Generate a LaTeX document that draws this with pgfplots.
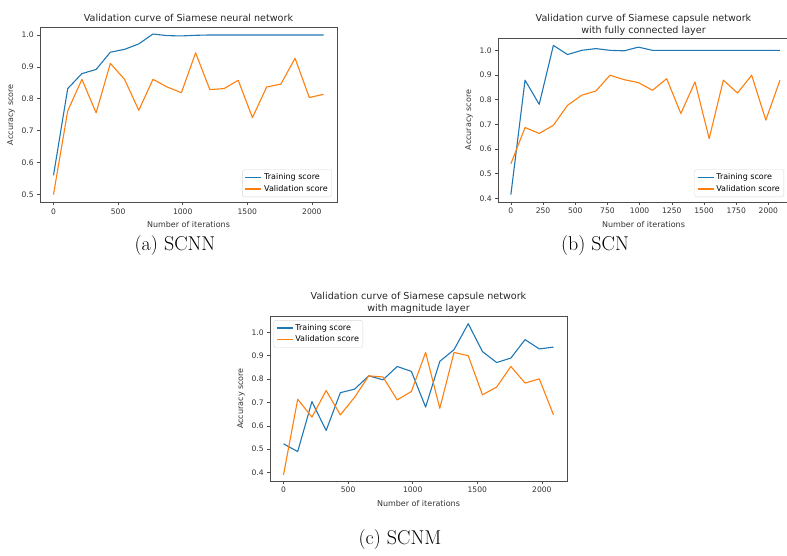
\documentclass[border=0pt]{standalone}
\usepackage{fontspec}
\setsansfont{DejaVu Sans}
\usepackage{pgfplots}
\usepackage{pgfplotstable}
\pgfplotsset{compat=1.18}
\definecolor{mplblue}{HTML}{1F77B4}
\definecolor{mplorange}{HTML}{FF7F0E}
\pgfplotsset{
 mpl/.style={
  scale only axis,
  axis line style={black!70, line width=0.6pt},
  tick align=outside, tick pos=left,
  major tick length=2.8pt,
  every tick/.style={black!70, line width=0.6pt},
  tick label style={font=\sffamily\fontsize{7.6}{9}\selectfont, text=black!80},
  label style={font=\sffamily\fontsize{8}{9.5}\selectfont, text=black!80},
  title style={font=\sffamily\fontsize{9.6}{12}\selectfont, align=center, text=black!85, inner sep=1pt},
  /pgf/number format/assume math mode=true,
  /pgf/number format/1000 sep={},
  y tick label style={/pgf/number format/.cd, fixed, fixed zerofill, precision=1},
  legend style={font=\sffamily\fontsize{8}{9.5}\selectfont, draw=black!15, rounded corners=1.5pt, fill=white, inner sep=2pt},
  legend cell align=left,
  legend image code/.code={\draw[##1, line width=1.6pt] (0pt,0pt) -- (16pt,0pt);},
  ylabel={Accuracy score}, xlabel={Number of iterations},
  every axis plot/.append style={line width=1.1pt, line join=round},
 }
}
\pgfplotstableread{
x train val
0    0.560 0.500
110  0.832 0.762
220  0.879 0.861
330  0.892 0.756
440  0.946 0.911
550  0.955 0.861
660  0.972 0.764
770  1.003 0.861
880  0.998 0.837
990  0.997 0.819
1100 0.999 0.944
1210 1.000 0.829
1320 1.000 0.832
1430 1.000 0.858
1540 1.000 0.741
1650 1.000 0.837
1760 1.000 0.846
1870 1.000 0.927
1980 1.000 0.804
2090 1.000 0.814
}\tableA
\pgfplotstableread{
x train val
0    0.415 0.540
110  0.879 0.687
220  0.781 0.663
330  1.020 0.696
440  0.983 0.777
550  1.000 0.818
660  1.007 0.835
770  1.000 0.899
880  0.998 0.881
990  1.013 0.869
1100 1.000 0.838
1210 1.000 0.885
1320 1.000 0.744
1430 1.000 0.872
1540 1.000 0.642
1650 1.000 0.879
1760 1.000 0.827
1870 1.000 0.899
1980 1.000 0.717
2090 1.000 0.879
}\tableB
\pgfplotstableread{
x train val
0    0.523 0.390
110  0.490 0.714
220  0.704 0.637
330  0.580 0.751
440  0.742 0.647
550  0.757 0.722
660  0.814 0.814
770  0.797 0.809
880  0.854 0.711
990  0.833 0.747
1100 0.680 0.914
1210 0.876 0.675
1320 0.926 0.914
1430 1.037 0.900
1540 0.918 0.733
1650 0.871 0.766
1760 0.890 0.854
1870 0.969 0.783
1980 0.929 0.801
2090 0.937 0.647
}\tableC
\begin{document}
\begin{tikzpicture}[x=1pt,y=1pt]
\path[use as bounding box] (0,0) rectangle (787,555);
\clip (0,0) rectangle (787,555);
% (a)
\begin{axis}[mpl, at={(40pt,352.5pt)}, anchor=south west,
  width=297pt, height=175.5pt,
  xmin=-104.5, xmax=2194.5, ymin=0.475, ymax=1.025,
  xtick={0,500,1000,1500,2000}, ytick={0.5,0.6,0.7,0.8,0.9,1.0},
  title={Validation curve of Siamese neural network},
  title style={yshift=-2pt},
  legend style={at={(0.983,0.031)}, anchor=south east}]
\addplot[mplblue] table[x=x,y=train]{\tableA};
\addlegendentry{Training score}
\addplot[mplorange] table[x=x,y=val]{\tableA};
\addlegendentry{Validation score}
\end{axis}
% (b)
\begin{axis}[mpl, at={(498pt,353pt)}, anchor=south west,
  width=291pt, height=164pt,
  xmin=-100, xmax=2160, ymin=0.385, ymax=1.05,
  xtick={0,250,500,750,1000,1250,1500,1750,2000}, ytick={0.4,0.5,0.6,0.7,0.8,0.9,1.0},
  title={Validation curve of Siamese capsule network\\with fully connected layer},
  title style={yshift=-5pt},
  legend style={at={(0.983,0.03)}, anchor=south east}]
\addplot[mplblue] table[x=x,y=train]{\tableB};
\addlegendentry{Training score}
\addplot[mplorange] table[x=x,y=val]{\tableB};
\addlegendentry{Validation score}
\end{axis}
% (c)
\begin{axis}[mpl, at={(270pt,74pt)}, anchor=south west,
  width=297pt, height=165pt,
  xmin=-104.5, xmax=2194.5, ymin=0.364, ymax=1.07,
  xtick={0,500,1000,1500,2000}, ytick={0.4,0.5,0.6,0.7,0.8,0.9,1.0},
  title={Validation curve of Siamese capsule network\\with magnitude layer},
  title style={yshift=-5pt},
  legend style={at={(0.012,0.975)}, anchor=north west}]
\addplot[mplblue] table[x=x,y=train]{\tableC};
\addlegendentry{Training score}
\addplot[mplorange] table[x=x,y=val]{\tableC};
\addlegendentry{Validation score}
\end{axis}
\node[font=\fontsize{20}{24}\selectfont] at (175pt,309pt) {(a) SCNN};
\node[font=\fontsize{20}{24}\selectfont] at (595pt,309pt) {(b) SCN};
\node[font=\fontsize{20}{24}\selectfont] at (400pt,15pt) {(c) SCNM};
\end{tikzpicture}
\end{document}
